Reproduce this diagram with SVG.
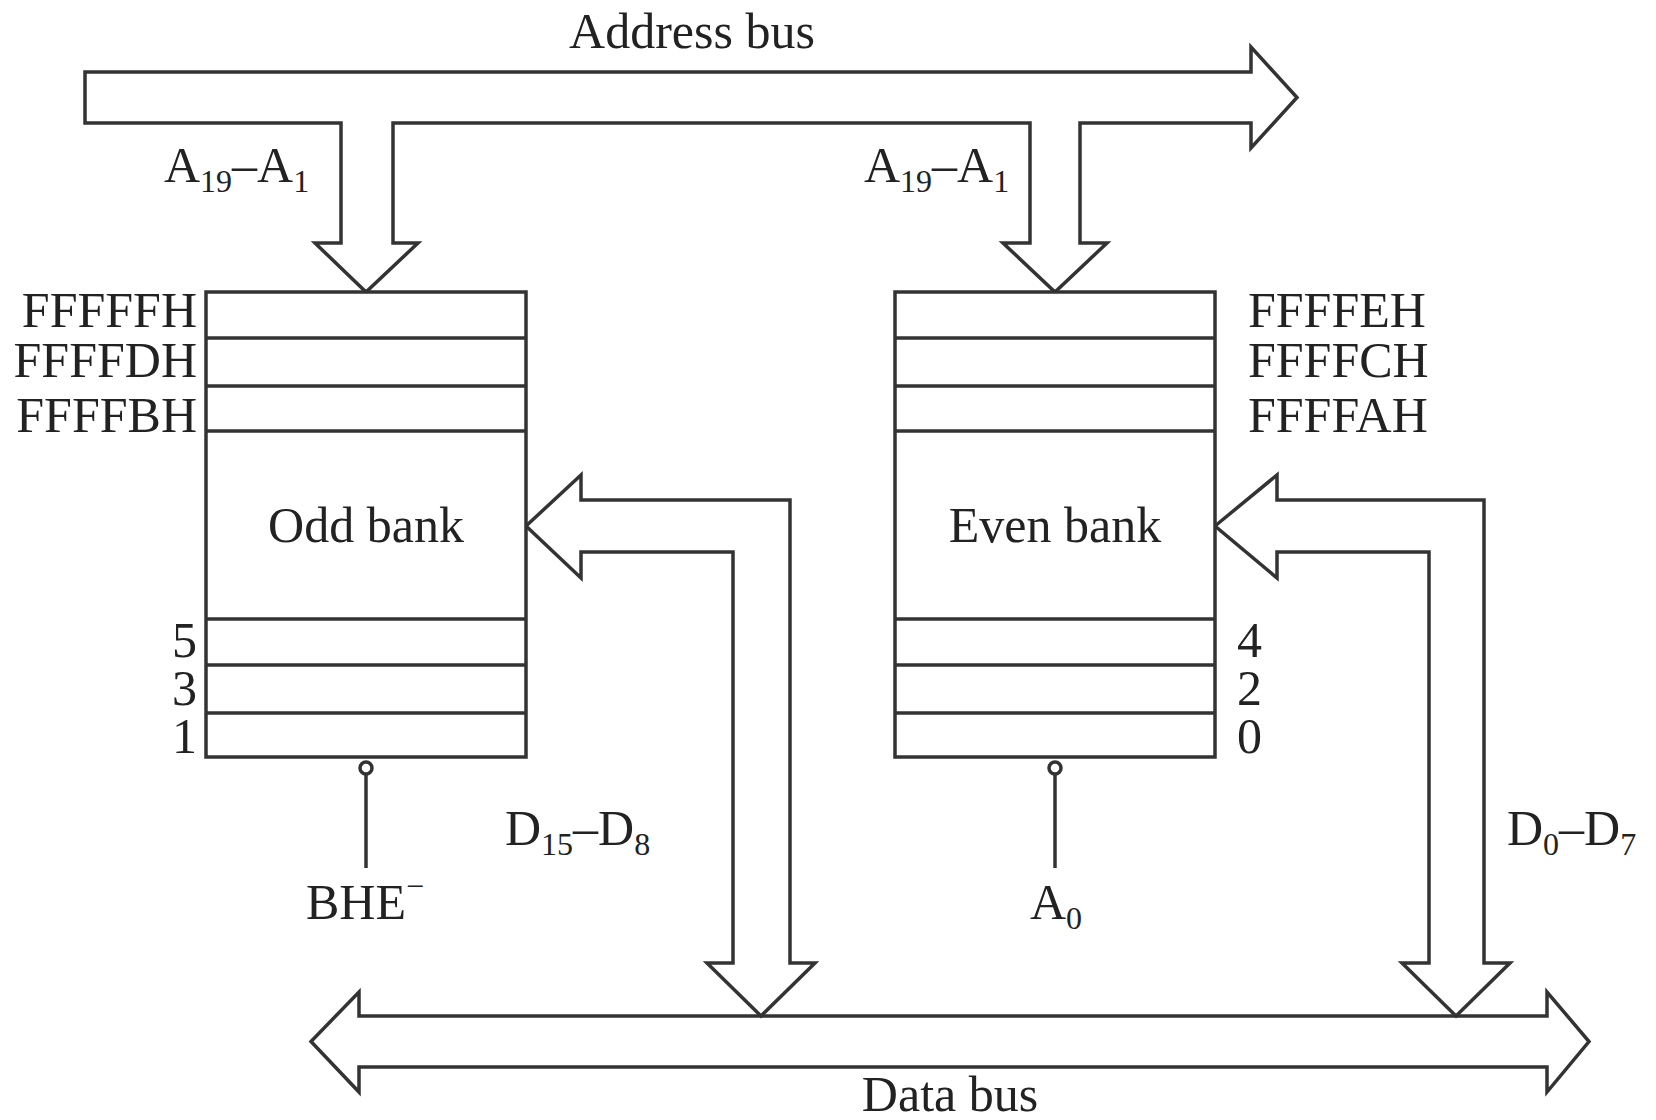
<svg xmlns="http://www.w3.org/2000/svg" width="1656" height="1120" viewBox="0 0 1656 1120">
<style>
.ln{fill:none;stroke:#333;stroke-width:3.5;stroke-linejoin:miter}
.bx{fill:#fff;stroke:#333;stroke-width:3.5}
.t{font-family:"Liberation Serif","Times New Roman",serif;font-size:50px;fill:#222}
.s{font-size:32px}
</style>
<rect width="1656" height="1120" fill="#fff"/>
<g id="connectors">
<path id="address-bus" class="ln" d="M85,72 L1251,72 L1251,47 L1297,97.5 L1251,148 L1251,123 L1080,123 L1080,243 L1107,243 L1055,292 L1003,243 L1030,243 L1030,123 L393,123 L393,243 L418,243 L366,292 L315,243 L341,243 L341,123 L85,123 Z"/>
<path id="data-bus" class="ln" d="M359,1016 L1547,1016 L1547,992 L1589,1041.5 L1547,1092 L1547,1067 L359,1067 L359,1092 L311,1041.5 L359,992 Z"/>
<path id="odd-data" class="ln" d="M526,526 L581,475 L581,500 L790,500 L790,963 L815,963 L761,1016 L707,963 L733,963 L733,552 L581,552 L581,578 Z"/>
<path id="even-data" class="ln" d="M1215,526 L1277,475 L1277,500 L1484,500 L1484,963 L1510,963 L1456,1016 L1402,963 L1429,963 L1429,552 L1277,552 L1277,578 Z"/>
<line class="ln" x1="366" y1="774" x2="366" y2="868"/>
<circle class="ln" cx="366" cy="768" r="6"/>
<line class="ln" x1="1055" y1="774" x2="1055" y2="868"/>
<circle class="ln" cx="1055" cy="768" r="6"/>
</g>
<g id="odd-bank">
<rect class="bx" x="206" y="292" width="320" height="465"/>
<path class="ln" d="M206,338H526M206,386H526M206,431H526M206,619H526M206,665H526M206,713H526"/>
<text class="t" x="366" y="542" text-anchor="middle">Odd bank</text>
<text class="t" x="197" y="327" text-anchor="end">FFFFFH</text>
<text class="t" x="197" y="377" text-anchor="end">FFFFDH</text>
<text class="t" x="197" y="432" text-anchor="end">FFFFBH</text>
<text class="t" x="197" y="657" text-anchor="end">5</text>
<text class="t" x="197" y="705" text-anchor="end">3</text>
<text class="t" x="197" y="753" text-anchor="end">1</text>
</g>
<g id="even-bank">
<rect class="bx" x="895" y="292" width="320" height="465"/>
<path class="ln" d="M895,338H1215M895,386H1215M895,431H1215M895,619H1215M895,665H1215M895,713H1215"/>
<text class="t" x="1055" y="542" text-anchor="middle">Even bank</text>
<text class="t" x="1248" y="327">FFFFEH</text>
<text class="t" x="1248" y="377">FFFFCH</text>
<text class="t" x="1248" y="432">FFFFAH</text>
<text class="t" x="1237" y="657">4</text>
<text class="t" x="1237" y="705">2</text>
<text class="t" x="1237" y="753">0</text>
</g>
<g id="labels">
<text class="t" x="692" y="48" text-anchor="middle">Address bus</text>
<text class="t" x="950" y="1111" text-anchor="middle">Data bus</text>
<text class="t" x="164" y="182">A<tspan class="s" dy="10">19</tspan><tspan dy="-10">–A</tspan><tspan class="s" dy="10">1</tspan></text>
<text class="t" x="864" y="182">A<tspan class="s" dy="10">19</tspan><tspan dy="-10">–A</tspan><tspan class="s" dy="10">1</tspan></text>
<text class="t" x="505" y="845">D<tspan class="s" dy="10">15</tspan><tspan dy="-10">–D</tspan><tspan class="s" dy="10">8</tspan></text>
<text class="t" x="1507" y="845">D<tspan class="s" dy="10">0</tspan><tspan dy="-10">–D</tspan><tspan class="s" dy="10">7</tspan></text>
<text class="t" x="365" y="919" text-anchor="middle">BHE<tspan class="s" dy="-22">−</tspan></text>
<text class="t" x="1056" y="919" text-anchor="middle">A<tspan class="s" dy="10">0</tspan></text>
</g>
</svg>
